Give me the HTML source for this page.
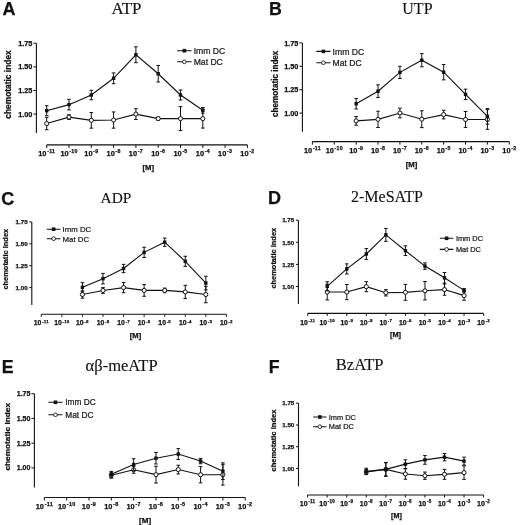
<!DOCTYPE html>
<html><head><meta charset="utf-8"><style>
html,body{margin:0;padding:0;background:#fff;width:520px;height:525px;overflow:hidden}
svg{display:block;will-change:transform;filter:blur(0.3px)}
text.b{stroke:#111;stroke-width:0.25px}
text.r{stroke:#222;stroke-width:0.22px}
text.t{stroke:#111;stroke-width:0.12px}
</style></head><body>
<svg width="520" height="525" viewBox="0 0 520 525" fill="#111">
<rect width="520" height="525" fill="#fff"/>
<text x="2.4" y="14.8" font-family='"Liberation Sans", sans-serif' class="b" font-weight="bold" font-size="18">A</text>
<text x="111.4" y="13.7" class="t" font-family='"Liberation Serif", serif' font-size="16.9">ATP</text>
<path d="M36.4 43.25V132.9" stroke="#111" stroke-width="1.1" fill="none"/>
<path d="M33.4 43.25H36.4" stroke="#111" stroke-width="1" fill="none"/>
<text x="32.4" y="45.88" text-anchor="end" font-family='"Liberation Sans", sans-serif' class="b" font-weight="bold" font-size="7.3">1.75</text>
<path d="M33.4 66.87H36.4" stroke="#111" stroke-width="1" fill="none"/>
<text x="32.4" y="69.49" text-anchor="end" font-family='"Liberation Sans", sans-serif' class="b" font-weight="bold" font-size="7.3">1.50</text>
<path d="M33.4 90.48H36.4" stroke="#111" stroke-width="1" fill="none"/>
<text x="32.4" y="93.11" text-anchor="end" font-family='"Liberation Sans", sans-serif' class="b" font-weight="bold" font-size="7.3">1.25</text>
<path d="M33.4 114.1H36.4" stroke="#111" stroke-width="1" fill="none"/>
<text x="32.4" y="116.73" text-anchor="end" font-family='"Liberation Sans", sans-serif' class="b" font-weight="bold" font-size="7.3">1.00</text>
<text transform="translate(11.22 84.5) rotate(-90) scale(1 1)" text-anchor="middle" font-family='"Liberation Sans", sans-serif' class="b" font-weight="bold" font-size="8.4">chemotatic index</text>
<path d="M46.7 144.9H247.4" stroke="#111" stroke-width="1.1" fill="none"/>
<path d="M46.7 144.9v3" stroke="#111" stroke-width="1" fill="none"/>
<text x="46.7" y="156" text-anchor="middle" font-family='"Liberation Sans", sans-serif' class="b" font-weight="bold" font-size="7.4">10<tspan font-size="5.2" letter-spacing="0.25" dx="0.7" dy="-2.81">-11</tspan></text>
<path d="M69 144.9v3" stroke="#111" stroke-width="1" fill="none"/>
<text x="69" y="156" text-anchor="middle" font-family='"Liberation Sans", sans-serif' class="b" font-weight="bold" font-size="7.4">10<tspan font-size="5.2" letter-spacing="0.25" dx="0.7" dy="-2.81">-10</tspan></text>
<path d="M91.3 144.9v3" stroke="#111" stroke-width="1" fill="none"/>
<text x="91.3" y="156" text-anchor="middle" font-family='"Liberation Sans", sans-serif' class="b" font-weight="bold" font-size="7.4">10<tspan font-size="5.2" letter-spacing="0.25" dx="0.7" dy="-2.81">-9</tspan></text>
<path d="M113.6 144.9v3" stroke="#111" stroke-width="1" fill="none"/>
<text x="113.6" y="156" text-anchor="middle" font-family='"Liberation Sans", sans-serif' class="b" font-weight="bold" font-size="7.4">10<tspan font-size="5.2" letter-spacing="0.25" dx="0.7" dy="-2.81">-8</tspan></text>
<path d="M135.9 144.9v3" stroke="#111" stroke-width="1" fill="none"/>
<text x="135.9" y="156" text-anchor="middle" font-family='"Liberation Sans", sans-serif' class="b" font-weight="bold" font-size="7.4">10<tspan font-size="5.2" letter-spacing="0.25" dx="0.7" dy="-2.81">-7</tspan></text>
<path d="M158.2 144.9v3" stroke="#111" stroke-width="1" fill="none"/>
<text x="158.2" y="156" text-anchor="middle" font-family='"Liberation Sans", sans-serif' class="b" font-weight="bold" font-size="7.4">10<tspan font-size="5.2" letter-spacing="0.25" dx="0.7" dy="-2.81">-6</tspan></text>
<path d="M180.5 144.9v3" stroke="#111" stroke-width="1" fill="none"/>
<text x="180.5" y="156" text-anchor="middle" font-family='"Liberation Sans", sans-serif' class="b" font-weight="bold" font-size="7.4">10<tspan font-size="5.2" letter-spacing="0.25" dx="0.7" dy="-2.81">-5</tspan></text>
<path d="M202.8 144.9v3" stroke="#111" stroke-width="1" fill="none"/>
<text x="202.8" y="156" text-anchor="middle" font-family='"Liberation Sans", sans-serif' class="b" font-weight="bold" font-size="7.4">10<tspan font-size="5.2" letter-spacing="0.25" dx="0.7" dy="-2.81">-4</tspan></text>
<path d="M225.1 144.9v3" stroke="#111" stroke-width="1" fill="none"/>
<text x="225.1" y="156" text-anchor="middle" font-family='"Liberation Sans", sans-serif' class="b" font-weight="bold" font-size="7.4">10<tspan font-size="5.2" letter-spacing="0.25" dx="0.7" dy="-2.81">-3</tspan></text>
<path d="M247.4 144.9v3" stroke="#111" stroke-width="1" fill="none"/>
<text x="247.4" y="156" text-anchor="middle" font-family='"Liberation Sans", sans-serif' class="b" font-weight="bold" font-size="7.4">10<tspan font-size="5.2" letter-spacing="0.25" dx="0.7" dy="-2.81">-2</tspan></text>
<text x="148.3" y="170.2" text-anchor="middle" font-family='"Liberation Sans", sans-serif' class="b" font-weight="bold" font-size="7.7">[M]</text>
<polyline points="46.7,123.55 69,117.12 91.3,120.33 113.6,120.05 135.9,114.1 158.2,118.63 180.5,118.63 202.8,118.63" stroke="#111" stroke-width="1.1" fill="none"/>
<path d="M46.7 117.41V129.69M44.9 117.41h3.6M44.9 129.69h3.6" stroke="#111" stroke-width="1" fill="none"/>
<path d="M69 114.76V119.48M67.2 114.76h3.6M67.2 119.48h3.6" stroke="#111" stroke-width="1" fill="none"/>
<path d="M91.3 112.49V128.18M89.5 112.49h3.6M89.5 128.18h3.6" stroke="#111" stroke-width="1" fill="none"/>
<path d="M113.6 111.93V128.18M111.8 111.93h3.6M111.8 128.18h3.6" stroke="#111" stroke-width="1" fill="none"/>
<path d="M135.9 108.72V119.48M134.1 108.72h3.6M134.1 119.48h3.6" stroke="#111" stroke-width="1" fill="none"/>
<path d="M158.2 117.12V120.15M156.4 117.12h3.6M156.4 120.15h3.6" stroke="#111" stroke-width="1" fill="none"/>
<path d="M180.5 106.64V130.63M178.7 106.64h3.6M178.7 130.63h3.6" stroke="#111" stroke-width="1" fill="none"/>
<path d="M202.8 109.19V128.08M201 109.19h3.6M201 128.08h3.6" stroke="#111" stroke-width="1" fill="none"/>
<circle cx="46.7" cy="123.55" r="2.05" fill="#fff" stroke="#111" stroke-width="1"/>
<circle cx="69" cy="117.12" r="2.05" fill="#fff" stroke="#111" stroke-width="1"/>
<circle cx="91.3" cy="120.33" r="2.05" fill="#fff" stroke="#111" stroke-width="1"/>
<circle cx="113.6" cy="120.05" r="2.05" fill="#fff" stroke="#111" stroke-width="1"/>
<circle cx="135.9" cy="114.1" r="2.05" fill="#fff" stroke="#111" stroke-width="1"/>
<circle cx="158.2" cy="118.63" r="2.05" fill="#fff" stroke="#111" stroke-width="1"/>
<circle cx="180.5" cy="118.63" r="2.05" fill="#fff" stroke="#111" stroke-width="1"/>
<circle cx="202.8" cy="118.63" r="2.05" fill="#fff" stroke="#111" stroke-width="1"/>
<polyline points="46.7,110.7 69,104.65 91.3,95.02 113.6,78.3 135.9,54.77 158.2,73.76 180.5,95.02 202.8,110.32" stroke="#111" stroke-width="1.1" fill="none"/>
<path d="M46.7 105.69V115.71M44.9 105.69h3.6M44.9 115.71h3.6" stroke="#111" stroke-width="1" fill="none"/>
<path d="M69 99.36V109.94M67.2 99.36h3.6M67.2 109.94h3.6" stroke="#111" stroke-width="1" fill="none"/>
<path d="M91.3 90.29V99.74M89.5 90.29h3.6M89.5 99.74h3.6" stroke="#111" stroke-width="1" fill="none"/>
<path d="M113.6 72.91V83.68M111.8 72.91h3.6M111.8 83.68h3.6" stroke="#111" stroke-width="1" fill="none"/>
<path d="M135.9 46.84V62.71M134.1 46.84h3.6M134.1 62.71h3.6" stroke="#111" stroke-width="1" fill="none"/>
<path d="M158.2 65.54V81.98M156.4 65.54h3.6M156.4 81.98h3.6" stroke="#111" stroke-width="1" fill="none"/>
<path d="M180.5 90.01V100.02M178.7 90.01h3.6M178.7 100.02h3.6" stroke="#111" stroke-width="1" fill="none"/>
<path d="M202.8 107.49V113.16M201 107.49h3.6M201 113.16h3.6" stroke="#111" stroke-width="1" fill="none"/>
<rect x="45" y="109" width="3.4" height="3.4" fill="#111"/>
<rect x="67.3" y="102.95" width="3.4" height="3.4" fill="#111"/>
<rect x="89.6" y="93.32" width="3.4" height="3.4" fill="#111"/>
<rect x="111.9" y="76.6" width="3.4" height="3.4" fill="#111"/>
<rect x="134.2" y="53.07" width="3.4" height="3.4" fill="#111"/>
<rect x="156.5" y="72.06" width="3.4" height="3.4" fill="#111"/>
<rect x="178.8" y="93.32" width="3.4" height="3.4" fill="#111"/>
<rect x="201.1" y="108.62" width="3.4" height="3.4" fill="#111"/>
<path d="M177.2 50.7H191.6M177.2 61.8H191.6" stroke="#111" stroke-width="1.1" fill="none"/>
<rect x="182.6" y="48.9" width="3.6" height="3.6" fill="#111"/>
<circle cx="184.4" cy="61.8" r="1.85" fill="#fff" stroke="#111" stroke-width="0.85"/>
<text x="193.7" y="53.8" class="r" font-family='"Liberation Sans", sans-serif' font-size="8.6">Imm DC</text>
<text x="193.7" y="64.9" class="r" font-family='"Liberation Sans", sans-serif' font-size="8.6">Mat DC</text>
<text x="269.1" y="15" font-family='"Liberation Sans", sans-serif' class="b" font-weight="bold" font-size="17.8">B</text>
<text x="402.3" y="13.7" class="t" font-family='"Liberation Serif", serif' font-size="16">UTP</text>
<path d="M302.4 42.9V131.8" stroke="#111" stroke-width="1.1" fill="none"/>
<path d="M299.4 42.9H302.4" stroke="#111" stroke-width="1" fill="none"/>
<text x="298.4" y="45.53" text-anchor="end" font-family='"Liberation Sans", sans-serif' class="b" font-weight="bold" font-size="7.3">1.75</text>
<path d="M299.4 66.3H302.4" stroke="#111" stroke-width="1" fill="none"/>
<text x="298.4" y="68.93" text-anchor="end" font-family='"Liberation Sans", sans-serif' class="b" font-weight="bold" font-size="7.3">1.50</text>
<path d="M299.4 89.7H302.4" stroke="#111" stroke-width="1" fill="none"/>
<text x="298.4" y="92.33" text-anchor="end" font-family='"Liberation Sans", sans-serif' class="b" font-weight="bold" font-size="7.3">1.25</text>
<path d="M299.4 113.1H302.4" stroke="#111" stroke-width="1" fill="none"/>
<text x="298.4" y="115.73" text-anchor="end" font-family='"Liberation Sans", sans-serif' class="b" font-weight="bold" font-size="7.3">1.00</text>
<text transform="translate(277.93 83.8) rotate(-90) scale(1 1)" text-anchor="middle" font-family='"Liberation Sans", sans-serif' class="b" font-weight="bold" font-size="8.15">chemotatic index</text>
<path d="M312.4 141.6H509.3" stroke="#111" stroke-width="1.1" fill="none"/>
<path d="M312.4 141.6v3" stroke="#111" stroke-width="1" fill="none"/>
<text x="312.4" y="153.3" text-anchor="middle" font-family='"Liberation Sans", sans-serif' class="b" font-weight="bold" font-size="7.4">10<tspan font-size="5.2" letter-spacing="0.25" dx="0.7" dy="-2.81">-11</tspan></text>
<path d="M334.28 141.6v3" stroke="#111" stroke-width="1" fill="none"/>
<text x="334.28" y="153.3" text-anchor="middle" font-family='"Liberation Sans", sans-serif' class="b" font-weight="bold" font-size="7.4">10<tspan font-size="5.2" letter-spacing="0.25" dx="0.7" dy="-2.81">-10</tspan></text>
<path d="M356.16 141.6v3" stroke="#111" stroke-width="1" fill="none"/>
<text x="356.16" y="153.3" text-anchor="middle" font-family='"Liberation Sans", sans-serif' class="b" font-weight="bold" font-size="7.4">10<tspan font-size="5.2" letter-spacing="0.25" dx="0.7" dy="-2.81">-9</tspan></text>
<path d="M378.03 141.6v3" stroke="#111" stroke-width="1" fill="none"/>
<text x="378.03" y="153.3" text-anchor="middle" font-family='"Liberation Sans", sans-serif' class="b" font-weight="bold" font-size="7.4">10<tspan font-size="5.2" letter-spacing="0.25" dx="0.7" dy="-2.81">-8</tspan></text>
<path d="M399.91 141.6v3" stroke="#111" stroke-width="1" fill="none"/>
<text x="399.91" y="153.3" text-anchor="middle" font-family='"Liberation Sans", sans-serif' class="b" font-weight="bold" font-size="7.4">10<tspan font-size="5.2" letter-spacing="0.25" dx="0.7" dy="-2.81">-7</tspan></text>
<path d="M421.79 141.6v3" stroke="#111" stroke-width="1" fill="none"/>
<text x="421.79" y="153.3" text-anchor="middle" font-family='"Liberation Sans", sans-serif' class="b" font-weight="bold" font-size="7.4">10<tspan font-size="5.2" letter-spacing="0.25" dx="0.7" dy="-2.81">-6</tspan></text>
<path d="M443.67 141.6v3" stroke="#111" stroke-width="1" fill="none"/>
<text x="443.67" y="153.3" text-anchor="middle" font-family='"Liberation Sans", sans-serif' class="b" font-weight="bold" font-size="7.4">10<tspan font-size="5.2" letter-spacing="0.25" dx="0.7" dy="-2.81">-5</tspan></text>
<path d="M465.54 141.6v3" stroke="#111" stroke-width="1" fill="none"/>
<text x="465.54" y="153.3" text-anchor="middle" font-family='"Liberation Sans", sans-serif' class="b" font-weight="bold" font-size="7.4">10<tspan font-size="5.2" letter-spacing="0.25" dx="0.7" dy="-2.81">-4</tspan></text>
<path d="M487.42 141.6v3" stroke="#111" stroke-width="1" fill="none"/>
<text x="487.42" y="153.3" text-anchor="middle" font-family='"Liberation Sans", sans-serif' class="b" font-weight="bold" font-size="7.4">10<tspan font-size="5.2" letter-spacing="0.25" dx="0.7" dy="-2.81">-3</tspan></text>
<path d="M509.3 141.6v3" stroke="#111" stroke-width="1" fill="none"/>
<text x="509.3" y="153.3" text-anchor="middle" font-family='"Liberation Sans", sans-serif' class="b" font-weight="bold" font-size="7.4">10<tspan font-size="5.2" letter-spacing="0.25" dx="0.7" dy="-2.81">-2</tspan></text>
<text x="411.5" y="166.7" text-anchor="middle" font-family='"Liberation Sans", sans-serif' class="b" font-weight="bold" font-size="7.7">[M]</text>
<polyline points="356.16,120.87 378.03,119.37 399.91,113.01 421.79,119.18 443.67,114.6 465.54,119.46 487.42,119.46" stroke="#111" stroke-width="1.1" fill="none"/>
<path d="M356.16 116.56V125.17M354.36 116.56h3.6M354.36 125.17h3.6" stroke="#111" stroke-width="1" fill="none"/>
<path d="M378.03 111.23V127.51M376.23 111.23h3.6M376.23 127.51h3.6" stroke="#111" stroke-width="1" fill="none"/>
<path d="M399.91 108.14V117.87M398.11 108.14h3.6M398.11 117.87h3.6" stroke="#111" stroke-width="1" fill="none"/>
<path d="M421.79 110.76V127.61M419.99 110.76h3.6M419.99 127.61h3.6" stroke="#111" stroke-width="1" fill="none"/>
<path d="M443.67 110.29V118.9M441.87 110.29h3.6M441.87 118.9h3.6" stroke="#111" stroke-width="1" fill="none"/>
<path d="M465.54 111.51V127.42M463.74 111.51h3.6M463.74 127.42h3.6" stroke="#111" stroke-width="1" fill="none"/>
<path d="M487.42 109.64V129.29M485.62 109.64h3.6M485.62 129.29h3.6" stroke="#111" stroke-width="1" fill="none"/>
<circle cx="356.16" cy="120.87" r="2.05" fill="#fff" stroke="#111" stroke-width="1"/>
<circle cx="378.03" cy="119.37" r="2.05" fill="#fff" stroke="#111" stroke-width="1"/>
<circle cx="399.91" cy="113.01" r="2.05" fill="#fff" stroke="#111" stroke-width="1"/>
<circle cx="421.79" cy="119.18" r="2.05" fill="#fff" stroke="#111" stroke-width="1"/>
<circle cx="443.67" cy="114.6" r="2.05" fill="#fff" stroke="#111" stroke-width="1"/>
<circle cx="465.54" cy="119.46" r="2.05" fill="#fff" stroke="#111" stroke-width="1"/>
<circle cx="487.42" cy="119.46" r="2.05" fill="#fff" stroke="#111" stroke-width="1"/>
<polyline points="356.16,103.74 378.03,91.2 399.91,72.38 421.79,60.22 443.67,72.2 465.54,94.38 487.42,116.38" stroke="#111" stroke-width="1.1" fill="none"/>
<path d="M356.16 98.5V108.98M354.36 98.5h3.6M354.36 108.98h3.6" stroke="#111" stroke-width="1" fill="none"/>
<path d="M378.03 84.83V97.56M376.23 84.83h3.6M376.23 97.56h3.6" stroke="#111" stroke-width="1" fill="none"/>
<path d="M399.91 66.3V78.47M398.11 66.3h3.6M398.11 78.47h3.6" stroke="#111" stroke-width="1" fill="none"/>
<path d="M421.79 53.66V66.77M419.99 53.66h3.6M419.99 66.77h3.6" stroke="#111" stroke-width="1" fill="none"/>
<path d="M443.67 64.52V79.87M441.87 64.52h3.6M441.87 79.87h3.6" stroke="#111" stroke-width="1" fill="none"/>
<path d="M465.54 89.14V99.62M463.74 89.14h3.6M463.74 99.62h3.6" stroke="#111" stroke-width="1" fill="none"/>
<path d="M487.42 108.61V124.14M485.62 108.61h3.6M485.62 124.14h3.6" stroke="#111" stroke-width="1" fill="none"/>
<rect x="354.46" y="102.04" width="3.4" height="3.4" fill="#111"/>
<rect x="376.33" y="89.5" width="3.4" height="3.4" fill="#111"/>
<rect x="398.21" y="70.68" width="3.4" height="3.4" fill="#111"/>
<rect x="420.09" y="58.52" width="3.4" height="3.4" fill="#111"/>
<rect x="441.97" y="70.5" width="3.4" height="3.4" fill="#111"/>
<rect x="463.84" y="92.68" width="3.4" height="3.4" fill="#111"/>
<rect x="485.72" y="114.68" width="3.4" height="3.4" fill="#111"/>
<path d="M316.3 51.4H330.5M316.3 62.7H330.5" stroke="#111" stroke-width="1.1" fill="none"/>
<rect x="321.6" y="49.6" width="3.6" height="3.6" fill="#111"/>
<circle cx="323.4" cy="62.7" r="1.85" fill="#fff" stroke="#111" stroke-width="0.85"/>
<text x="332.6" y="54.5" class="r" font-family='"Liberation Sans", sans-serif' font-size="8.6">Imm DC</text>
<text x="332.6" y="65.8" class="r" font-family='"Liberation Sans", sans-serif' font-size="8.6">Mat DC</text>
<text x="1.2" y="204.6" font-family='"Liberation Sans", sans-serif' class="b" font-weight="bold" font-size="18">C</text>
<text x="100.6" y="202.9" class="t" font-family='"Liberation Serif", serif' font-size="15.4">ADP</text>
<path d="M31.8 221.9V305" stroke="#111" stroke-width="1.1" fill="none"/>
<path d="M29.3 221.9H31.8" stroke="#111" stroke-width="1" fill="none"/>
<text x="27.6" y="224.13" text-anchor="end" font-family='"Liberation Sans", sans-serif' class="b" font-weight="bold" font-size="6.2">1.75</text>
<path d="M29.3 243.8H31.8" stroke="#111" stroke-width="1" fill="none"/>
<text x="27.6" y="246.03" text-anchor="end" font-family='"Liberation Sans", sans-serif' class="b" font-weight="bold" font-size="6.2">1.50</text>
<path d="M29.3 265.7H31.8" stroke="#111" stroke-width="1" fill="none"/>
<text x="27.6" y="267.93" text-anchor="end" font-family='"Liberation Sans", sans-serif' class="b" font-weight="bold" font-size="6.2">1.25</text>
<path d="M29.3 287.6H31.8" stroke="#111" stroke-width="1" fill="none"/>
<text x="27.6" y="289.83" text-anchor="end" font-family='"Liberation Sans", sans-serif' class="b" font-weight="bold" font-size="6.2">1.00</text>
<text transform="translate(8.18 259.2) rotate(-90) scale(1 1)" text-anchor="middle" font-family='"Liberation Sans", sans-serif' class="b" font-weight="bold" font-size="7.45">chemotatic index</text>
<path d="M41.3 314.3H226.4" stroke="#111" stroke-width="1.1" fill="none"/>
<path d="M41.3 314.3v2.5" stroke="#111" stroke-width="1" fill="none"/>
<text x="41.3" y="325.1" text-anchor="middle" font-family='"Liberation Sans", sans-serif' class="b" font-weight="bold" font-size="6.8">10<tspan font-size="4.4" letter-spacing="0.25" dx="0.7" dy="-2.58">-11</tspan></text>
<path d="M61.87 314.3v2.5" stroke="#111" stroke-width="1" fill="none"/>
<text x="61.87" y="325.1" text-anchor="middle" font-family='"Liberation Sans", sans-serif' class="b" font-weight="bold" font-size="6.8">10<tspan font-size="4.4" letter-spacing="0.25" dx="0.7" dy="-2.58">-10</tspan></text>
<path d="M82.43 314.3v2.5" stroke="#111" stroke-width="1" fill="none"/>
<text x="82.43" y="325.1" text-anchor="middle" font-family='"Liberation Sans", sans-serif' class="b" font-weight="bold" font-size="6.8">10<tspan font-size="4.4" letter-spacing="0.25" dx="0.7" dy="-2.58">-9</tspan></text>
<path d="M103 314.3v2.5" stroke="#111" stroke-width="1" fill="none"/>
<text x="103" y="325.1" text-anchor="middle" font-family='"Liberation Sans", sans-serif' class="b" font-weight="bold" font-size="6.8">10<tspan font-size="4.4" letter-spacing="0.25" dx="0.7" dy="-2.58">-8</tspan></text>
<path d="M123.57 314.3v2.5" stroke="#111" stroke-width="1" fill="none"/>
<text x="123.57" y="325.1" text-anchor="middle" font-family='"Liberation Sans", sans-serif' class="b" font-weight="bold" font-size="6.8">10<tspan font-size="4.4" letter-spacing="0.25" dx="0.7" dy="-2.58">-7</tspan></text>
<path d="M144.13 314.3v2.5" stroke="#111" stroke-width="1" fill="none"/>
<text x="144.13" y="325.1" text-anchor="middle" font-family='"Liberation Sans", sans-serif' class="b" font-weight="bold" font-size="6.8">10<tspan font-size="4.4" letter-spacing="0.25" dx="0.7" dy="-2.58">-6</tspan></text>
<path d="M164.7 314.3v2.5" stroke="#111" stroke-width="1" fill="none"/>
<text x="164.7" y="325.1" text-anchor="middle" font-family='"Liberation Sans", sans-serif' class="b" font-weight="bold" font-size="6.8">10<tspan font-size="4.4" letter-spacing="0.25" dx="0.7" dy="-2.58">-5</tspan></text>
<path d="M185.27 314.3v2.5" stroke="#111" stroke-width="1" fill="none"/>
<text x="185.27" y="325.1" text-anchor="middle" font-family='"Liberation Sans", sans-serif' class="b" font-weight="bold" font-size="6.8">10<tspan font-size="4.4" letter-spacing="0.25" dx="0.7" dy="-2.58">-4</tspan></text>
<path d="M205.83 314.3v2.5" stroke="#111" stroke-width="1" fill="none"/>
<text x="205.83" y="325.1" text-anchor="middle" font-family='"Liberation Sans", sans-serif' class="b" font-weight="bold" font-size="6.8">10<tspan font-size="4.4" letter-spacing="0.25" dx="0.7" dy="-2.58">-3</tspan></text>
<path d="M226.4 314.3v2.5" stroke="#111" stroke-width="1" fill="none"/>
<text x="226.4" y="325.1" text-anchor="middle" font-family='"Liberation Sans", sans-serif' class="b" font-weight="bold" font-size="6.8">10<tspan font-size="4.4" letter-spacing="0.25" dx="0.7" dy="-2.58">-2</tspan></text>
<text x="135.5" y="338.4" text-anchor="middle" font-family='"Liberation Sans", sans-serif' class="b" font-weight="bold" font-size="7.6">[M]</text>
<polyline points="82.43,294.52 103,290.49 123.57,287.6 144.13,290.4 164.7,290.4 185.27,291.89 205.83,294.52" stroke="#111" stroke-width="1.1" fill="none"/>
<path d="M82.43 290.84V298.2M80.63 290.84h3.6M80.63 298.2h3.6" stroke="#111" stroke-width="1" fill="none"/>
<path d="M103 287.6V293.38M101.2 287.6h3.6M101.2 293.38h3.6" stroke="#111" stroke-width="1" fill="none"/>
<path d="M123.57 282.52V292.68M121.77 282.52h3.6M121.77 292.68h3.6" stroke="#111" stroke-width="1" fill="none"/>
<path d="M144.13 284.53V296.27M142.33 284.53h3.6M142.33 296.27h3.6" stroke="#111" stroke-width="1" fill="none"/>
<path d="M164.7 288.13V292.68M162.9 288.13h3.6M162.9 292.68h3.6" stroke="#111" stroke-width="1" fill="none"/>
<path d="M185.27 285.32V298.46M183.47 285.32h3.6M183.47 298.46h3.6" stroke="#111" stroke-width="1" fill="none"/>
<path d="M205.83 286.29V302.75M204.03 286.29h3.6M204.03 302.75h3.6" stroke="#111" stroke-width="1" fill="none"/>
<circle cx="82.43" cy="294.52" r="2.05" fill="#fff" stroke="#111" stroke-width="1"/>
<circle cx="103" cy="290.49" r="2.05" fill="#fff" stroke="#111" stroke-width="1"/>
<circle cx="123.57" cy="287.6" r="2.05" fill="#fff" stroke="#111" stroke-width="1"/>
<circle cx="144.13" cy="290.4" r="2.05" fill="#fff" stroke="#111" stroke-width="1"/>
<circle cx="164.7" cy="290.4" r="2.05" fill="#fff" stroke="#111" stroke-width="1"/>
<circle cx="185.27" cy="291.89" r="2.05" fill="#fff" stroke="#111" stroke-width="1"/>
<circle cx="205.83" cy="294.52" r="2.05" fill="#fff" stroke="#111" stroke-width="1"/>
<polyline points="82.43,287.34 103,278.66 123.57,268.5 144.13,252.38 164.7,242.22 185.27,261.32 205.83,283.04" stroke="#111" stroke-width="1.1" fill="none"/>
<path d="M82.43 282.69V291.98M80.63 282.69h3.6M80.63 291.98h3.6" stroke="#111" stroke-width="1" fill="none"/>
<path d="M103 273.41V283.92M101.2 273.41h3.6M101.2 283.92h3.6" stroke="#111" stroke-width="1" fill="none"/>
<path d="M123.57 264.39V272.62M121.77 264.39h3.6M121.77 272.62h3.6" stroke="#111" stroke-width="1" fill="none"/>
<path d="M144.13 247.3V257.47M142.33 247.3h3.6M142.33 257.47h3.6" stroke="#111" stroke-width="1" fill="none"/>
<path d="M164.7 238.11V246.34M162.9 238.11h3.6M162.9 246.34h3.6" stroke="#111" stroke-width="1" fill="none"/>
<path d="M185.27 256.24V266.4M183.47 256.24h3.6M183.47 266.4h3.6" stroke="#111" stroke-width="1" fill="none"/>
<path d="M205.83 276.21V289.88M204.03 276.21h3.6M204.03 289.88h3.6" stroke="#111" stroke-width="1" fill="none"/>
<rect x="80.73" y="285.64" width="3.4" height="3.4" fill="#111"/>
<rect x="101.3" y="276.96" width="3.4" height="3.4" fill="#111"/>
<rect x="121.87" y="266.8" width="3.4" height="3.4" fill="#111"/>
<rect x="142.43" y="250.68" width="3.4" height="3.4" fill="#111"/>
<rect x="163" y="240.52" width="3.4" height="3.4" fill="#111"/>
<rect x="183.57" y="259.62" width="3.4" height="3.4" fill="#111"/>
<rect x="204.13" y="281.34" width="3.4" height="3.4" fill="#111"/>
<path d="M46.8 229.2H60.5M46.8 238.7H60.5" stroke="#111" stroke-width="1.1" fill="none"/>
<rect x="51.85" y="227.4" width="3.6" height="3.6" fill="#111"/>
<circle cx="53.65" cy="238.7" r="1.85" fill="#fff" stroke="#111" stroke-width="0.85"/>
<text x="62.6" y="232.01" class="r" font-family='"Liberation Sans", sans-serif' font-size="7.8">Imm DC</text>
<text x="62.6" y="241.51" class="r" font-family='"Liberation Sans", sans-serif' font-size="7.8">Mat DC</text>
<text x="268.1" y="204.2" font-family='"Liberation Sans", sans-serif' class="b" font-weight="bold" font-size="18">D</text>
<text x="351" y="202.4" class="t" font-family='"Liberation Serif", serif' font-size="16">2-MeSATP</text>
<path d="M298.4 220.2V303.9" stroke="#111" stroke-width="1.1" fill="none"/>
<path d="M295.9 220.2H298.4" stroke="#111" stroke-width="1" fill="none"/>
<text x="294.2" y="222.43" text-anchor="end" font-family='"Liberation Sans", sans-serif' class="b" font-weight="bold" font-size="6.2">1.75</text>
<path d="M295.9 242.3H298.4" stroke="#111" stroke-width="1" fill="none"/>
<text x="294.2" y="244.53" text-anchor="end" font-family='"Liberation Sans", sans-serif' class="b" font-weight="bold" font-size="6.2">1.50</text>
<path d="M295.9 264.4H298.4" stroke="#111" stroke-width="1" fill="none"/>
<text x="294.2" y="266.63" text-anchor="end" font-family='"Liberation Sans", sans-serif' class="b" font-weight="bold" font-size="6.2">1.25</text>
<path d="M295.9 286.5H298.4" stroke="#111" stroke-width="1" fill="none"/>
<text x="294.2" y="288.73" text-anchor="end" font-family='"Liberation Sans", sans-serif' class="b" font-weight="bold" font-size="6.2">1.00</text>
<text transform="translate(276.28 258.2) rotate(-90) scale(1 1)" text-anchor="middle" font-family='"Liberation Sans", sans-serif' class="b" font-weight="bold" font-size="7.45">chemotatic index</text>
<path d="M307.7 313.4H483.6" stroke="#111" stroke-width="1.1" fill="none"/>
<path d="M307.7 313.4v2.5" stroke="#111" stroke-width="1" fill="none"/>
<text x="307.7" y="324.6" text-anchor="middle" font-family='"Liberation Sans", sans-serif' class="b" font-weight="bold" font-size="6.8">10<tspan font-size="4.4" letter-spacing="0.25" dx="0.7" dy="-2.58">-11</tspan></text>
<path d="M327.24 313.4v2.5" stroke="#111" stroke-width="1" fill="none"/>
<text x="327.24" y="324.6" text-anchor="middle" font-family='"Liberation Sans", sans-serif' class="b" font-weight="bold" font-size="6.8">10<tspan font-size="4.4" letter-spacing="0.25" dx="0.7" dy="-2.58">-10</tspan></text>
<path d="M346.79 313.4v2.5" stroke="#111" stroke-width="1" fill="none"/>
<text x="346.79" y="324.6" text-anchor="middle" font-family='"Liberation Sans", sans-serif' class="b" font-weight="bold" font-size="6.8">10<tspan font-size="4.4" letter-spacing="0.25" dx="0.7" dy="-2.58">-9</tspan></text>
<path d="M366.33 313.4v2.5" stroke="#111" stroke-width="1" fill="none"/>
<text x="366.33" y="324.6" text-anchor="middle" font-family='"Liberation Sans", sans-serif' class="b" font-weight="bold" font-size="6.8">10<tspan font-size="4.4" letter-spacing="0.25" dx="0.7" dy="-2.58">-8</tspan></text>
<path d="M385.88 313.4v2.5" stroke="#111" stroke-width="1" fill="none"/>
<text x="385.88" y="324.6" text-anchor="middle" font-family='"Liberation Sans", sans-serif' class="b" font-weight="bold" font-size="6.8">10<tspan font-size="4.4" letter-spacing="0.25" dx="0.7" dy="-2.58">-7</tspan></text>
<path d="M405.42 313.4v2.5" stroke="#111" stroke-width="1" fill="none"/>
<text x="405.42" y="324.6" text-anchor="middle" font-family='"Liberation Sans", sans-serif' class="b" font-weight="bold" font-size="6.8">10<tspan font-size="4.4" letter-spacing="0.25" dx="0.7" dy="-2.58">-6</tspan></text>
<path d="M424.97 313.4v2.5" stroke="#111" stroke-width="1" fill="none"/>
<text x="424.97" y="324.6" text-anchor="middle" font-family='"Liberation Sans", sans-serif' class="b" font-weight="bold" font-size="6.8">10<tspan font-size="4.4" letter-spacing="0.25" dx="0.7" dy="-2.58">-5</tspan></text>
<path d="M444.51 313.4v2.5" stroke="#111" stroke-width="1" fill="none"/>
<text x="444.51" y="324.6" text-anchor="middle" font-family='"Liberation Sans", sans-serif' class="b" font-weight="bold" font-size="6.8">10<tspan font-size="4.4" letter-spacing="0.25" dx="0.7" dy="-2.58">-4</tspan></text>
<path d="M464.06 313.4v2.5" stroke="#111" stroke-width="1" fill="none"/>
<text x="464.06" y="324.6" text-anchor="middle" font-family='"Liberation Sans", sans-serif' class="b" font-weight="bold" font-size="6.8">10<tspan font-size="4.4" letter-spacing="0.25" dx="0.7" dy="-2.58">-3</tspan></text>
<path d="M483.6 313.4v2.5" stroke="#111" stroke-width="1" fill="none"/>
<text x="483.6" y="324.6" text-anchor="middle" font-family='"Liberation Sans", sans-serif' class="b" font-weight="bold" font-size="6.8">10<tspan font-size="4.4" letter-spacing="0.25" dx="0.7" dy="-2.58">-2</tspan></text>
<text x="395.5" y="337.3" text-anchor="middle" font-family='"Liberation Sans", sans-serif' class="b" font-weight="bold" font-size="7.4">[M]</text>
<polyline points="327.24,292.07 346.79,292.07 366.33,286.68 385.88,292.78 405.42,292.33 424.97,290.74 444.51,289.59 464.06,295.61" stroke="#111" stroke-width="1.1" fill="none"/>
<path d="M327.24 284.2V299.94M325.44 284.2h3.6M325.44 299.94h3.6" stroke="#111" stroke-width="1" fill="none"/>
<path d="M346.79 284.47V299.67M344.99 284.47h3.6M344.99 299.67h3.6" stroke="#111" stroke-width="1" fill="none"/>
<path d="M366.33 281.64V291.72M364.53 281.64h3.6M364.53 291.72h3.6" stroke="#111" stroke-width="1" fill="none"/>
<path d="M385.88 289.59V295.96M384.08 289.59h3.6M384.08 295.96h3.6" stroke="#111" stroke-width="1" fill="none"/>
<path d="M405.42 284.38V300.29M403.62 284.38h3.6M403.62 300.29h3.6" stroke="#111" stroke-width="1" fill="none"/>
<path d="M424.97 281.55V299.94M423.17 281.55h3.6M423.17 299.94h3.6" stroke="#111" stroke-width="1" fill="none"/>
<path d="M444.51 283.94V295.25M442.71 283.94h3.6M442.71 295.25h3.6" stroke="#111" stroke-width="1" fill="none"/>
<path d="M464.06 290.92V300.29M462.26 290.92h3.6M462.26 300.29h3.6" stroke="#111" stroke-width="1" fill="none"/>
<circle cx="327.24" cy="292.07" r="2.05" fill="#fff" stroke="#111" stroke-width="1"/>
<circle cx="346.79" cy="292.07" r="2.05" fill="#fff" stroke="#111" stroke-width="1"/>
<circle cx="366.33" cy="286.68" r="2.05" fill="#fff" stroke="#111" stroke-width="1"/>
<circle cx="385.88" cy="292.78" r="2.05" fill="#fff" stroke="#111" stroke-width="1"/>
<circle cx="405.42" cy="292.33" r="2.05" fill="#fff" stroke="#111" stroke-width="1"/>
<circle cx="424.97" cy="290.74" r="2.05" fill="#fff" stroke="#111" stroke-width="1"/>
<circle cx="444.51" cy="289.59" r="2.05" fill="#fff" stroke="#111" stroke-width="1"/>
<circle cx="464.06" cy="295.61" r="2.05" fill="#fff" stroke="#111" stroke-width="1"/>
<polyline points="327.24,286.32 346.79,268.91 366.33,253.97 385.88,234.87 405.42,250.7 424.97,266.08 444.51,277.84 464.06,290.39" stroke="#111" stroke-width="1.1" fill="none"/>
<path d="M327.24 281.73V290.92M325.44 281.73h3.6M325.44 290.92h3.6" stroke="#111" stroke-width="1" fill="none"/>
<path d="M346.79 263.87V273.95M344.99 263.87h3.6M344.99 273.95h3.6" stroke="#111" stroke-width="1" fill="none"/>
<path d="M366.33 248.58V259.36M364.53 248.58h3.6M364.53 259.36h3.6" stroke="#111" stroke-width="1" fill="none"/>
<path d="M385.88 228.42V241.33M384.08 228.42h3.6M384.08 241.33h3.6" stroke="#111" stroke-width="1" fill="none"/>
<path d="M405.42 245.84V255.56M403.62 245.84h3.6M403.62 255.56h3.6" stroke="#111" stroke-width="1" fill="none"/>
<path d="M424.97 262.9V269.26M423.17 262.9h3.6M423.17 269.26h3.6" stroke="#111" stroke-width="1" fill="none"/>
<path d="M444.51 272.53V283.14M442.71 272.53h3.6M442.71 283.14h3.6" stroke="#111" stroke-width="1" fill="none"/>
<path d="M464.06 288.62V292.16M462.26 288.62h3.6M462.26 292.16h3.6" stroke="#111" stroke-width="1" fill="none"/>
<rect x="325.54" y="284.62" width="3.4" height="3.4" fill="#111"/>
<rect x="345.09" y="267.21" width="3.4" height="3.4" fill="#111"/>
<rect x="364.63" y="252.27" width="3.4" height="3.4" fill="#111"/>
<rect x="384.18" y="233.17" width="3.4" height="3.4" fill="#111"/>
<rect x="403.72" y="249" width="3.4" height="3.4" fill="#111"/>
<rect x="423.27" y="264.38" width="3.4" height="3.4" fill="#111"/>
<rect x="442.81" y="276.14" width="3.4" height="3.4" fill="#111"/>
<rect x="462.36" y="288.69" width="3.4" height="3.4" fill="#111"/>
<path d="M439.8 238.3H453.4M439.8 249.4H453.4" stroke="#111" stroke-width="1.1" fill="none"/>
<rect x="444.8" y="236.5" width="3.6" height="3.6" fill="#111"/>
<circle cx="446.6" cy="249.4" r="1.85" fill="#fff" stroke="#111" stroke-width="0.85"/>
<text x="455.9" y="240.96" class="r" font-family='"Liberation Sans", sans-serif' font-size="7.4">Imm DC</text>
<text x="455.9" y="252.06" class="r" font-family='"Liberation Sans", sans-serif' font-size="7.4">Mat DC</text>
<text x="1.7" y="373" font-family='"Liberation Sans", sans-serif' class="b" font-weight="bold" font-size="17.8">E</text>
<text x="85.6" y="370.5" class="t" font-family='"Liberation Serif", serif' font-size="16.5">αβ-meATP</text>
<path d="M34.4 393.7V487.5" stroke="#111" stroke-width="1.1" fill="none"/>
<path d="M31.4 393.7H34.4" stroke="#111" stroke-width="1" fill="none"/>
<text x="30.4" y="396.22" text-anchor="end" font-family='"Liberation Sans", sans-serif' class="b" font-weight="bold" font-size="7">1.75</text>
<path d="M31.4 418.43H34.4" stroke="#111" stroke-width="1" fill="none"/>
<text x="30.4" y="420.95" text-anchor="end" font-family='"Liberation Sans", sans-serif' class="b" font-weight="bold" font-size="7">1.50</text>
<path d="M31.4 443.17H34.4" stroke="#111" stroke-width="1" fill="none"/>
<text x="30.4" y="445.69" text-anchor="end" font-family='"Liberation Sans", sans-serif' class="b" font-weight="bold" font-size="7">1.25</text>
<path d="M31.4 467.9H34.4" stroke="#111" stroke-width="1" fill="none"/>
<text x="30.4" y="470.42" text-anchor="end" font-family='"Liberation Sans", sans-serif' class="b" font-weight="bold" font-size="7">1.00</text>
<text transform="translate(9.56 436.8) rotate(-90) scale(1.12 1)" text-anchor="middle" font-family='"Liberation Sans", sans-serif' class="b" font-weight="bold" font-size="7.4">chemotatic index</text>
<path d="M44.4 497.5H245.2" stroke="#111" stroke-width="1.1" fill="none"/>
<path d="M44.4 497.5v3" stroke="#111" stroke-width="1" fill="none"/>
<text x="44.4" y="509.2" text-anchor="middle" font-family='"Liberation Sans", sans-serif' class="b" font-weight="bold" font-size="7.4">10<tspan font-size="5.5" letter-spacing="0.25" dx="0.7" dy="-2.81">-11</tspan></text>
<path d="M66.71 497.5v3" stroke="#111" stroke-width="1" fill="none"/>
<text x="66.71" y="509.2" text-anchor="middle" font-family='"Liberation Sans", sans-serif' class="b" font-weight="bold" font-size="7.4">10<tspan font-size="5.5" letter-spacing="0.25" dx="0.7" dy="-2.81">-10</tspan></text>
<path d="M89.02 497.5v3" stroke="#111" stroke-width="1" fill="none"/>
<text x="89.02" y="509.2" text-anchor="middle" font-family='"Liberation Sans", sans-serif' class="b" font-weight="bold" font-size="7.4">10<tspan font-size="5.5" letter-spacing="0.25" dx="0.7" dy="-2.81">-9</tspan></text>
<path d="M111.33 497.5v3" stroke="#111" stroke-width="1" fill="none"/>
<text x="111.33" y="509.2" text-anchor="middle" font-family='"Liberation Sans", sans-serif' class="b" font-weight="bold" font-size="7.4">10<tspan font-size="5.5" letter-spacing="0.25" dx="0.7" dy="-2.81">-8</tspan></text>
<path d="M133.64 497.5v3" stroke="#111" stroke-width="1" fill="none"/>
<text x="133.64" y="509.2" text-anchor="middle" font-family='"Liberation Sans", sans-serif' class="b" font-weight="bold" font-size="7.4">10<tspan font-size="5.5" letter-spacing="0.25" dx="0.7" dy="-2.81">-7</tspan></text>
<path d="M155.96 497.5v3" stroke="#111" stroke-width="1" fill="none"/>
<text x="155.96" y="509.2" text-anchor="middle" font-family='"Liberation Sans", sans-serif' class="b" font-weight="bold" font-size="7.4">10<tspan font-size="5.5" letter-spacing="0.25" dx="0.7" dy="-2.81">-6</tspan></text>
<path d="M178.27 497.5v3" stroke="#111" stroke-width="1" fill="none"/>
<text x="178.27" y="509.2" text-anchor="middle" font-family='"Liberation Sans", sans-serif' class="b" font-weight="bold" font-size="7.4">10<tspan font-size="5.5" letter-spacing="0.25" dx="0.7" dy="-2.81">-5</tspan></text>
<path d="M200.58 497.5v3" stroke="#111" stroke-width="1" fill="none"/>
<text x="200.58" y="509.2" text-anchor="middle" font-family='"Liberation Sans", sans-serif' class="b" font-weight="bold" font-size="7.4">10<tspan font-size="5.5" letter-spacing="0.25" dx="0.7" dy="-2.81">-4</tspan></text>
<path d="M222.89 497.5v3" stroke="#111" stroke-width="1" fill="none"/>
<text x="222.89" y="509.2" text-anchor="middle" font-family='"Liberation Sans", sans-serif' class="b" font-weight="bold" font-size="7.4">10<tspan font-size="5.5" letter-spacing="0.25" dx="0.7" dy="-2.81">-3</tspan></text>
<path d="M245.2 497.5v3" stroke="#111" stroke-width="1" fill="none"/>
<text x="245.2" y="509.2" text-anchor="middle" font-family='"Liberation Sans", sans-serif' class="b" font-weight="bold" font-size="7.4">10<tspan font-size="5.5" letter-spacing="0.25" dx="0.7" dy="-2.81">-2</tspan></text>
<text x="145.1" y="523.3" text-anchor="middle" font-family='"Liberation Sans", sans-serif' class="b" font-weight="bold" font-size="8">[M]</text>
<polyline points="111.33,475.22 133.64,469.78 155.96,474.63 178.27,469.58 200.58,474.73 222.89,474.73" stroke="#111" stroke-width="1.1" fill="none"/>
<path d="M111.33 472.25V478.19M109.53 472.25h3.6M109.53 478.19h3.6" stroke="#111" stroke-width="1" fill="none"/>
<path d="M133.64 466.32V473.24M131.84 466.32h3.6M131.84 473.24h3.6" stroke="#111" stroke-width="1" fill="none"/>
<path d="M155.96 466.22V483.04M154.16 466.22h3.6M154.16 483.04h3.6" stroke="#111" stroke-width="1" fill="none"/>
<path d="M178.27 465.23V473.93M176.47 465.23h3.6M176.47 473.93h3.6" stroke="#111" stroke-width="1" fill="none"/>
<path d="M200.58 466.61V482.84M198.78 466.61h3.6M198.78 482.84h3.6" stroke="#111" stroke-width="1" fill="none"/>
<path d="M222.89 464.34V485.11M221.09 464.34h3.6M221.09 485.11h3.6" stroke="#111" stroke-width="1" fill="none"/>
<circle cx="111.33" cy="475.22" r="2.05" fill="#fff" stroke="#111" stroke-width="1"/>
<circle cx="133.64" cy="469.78" r="2.05" fill="#fff" stroke="#111" stroke-width="1"/>
<circle cx="155.96" cy="474.63" r="2.05" fill="#fff" stroke="#111" stroke-width="1"/>
<circle cx="178.27" cy="469.58" r="2.05" fill="#fff" stroke="#111" stroke-width="1"/>
<circle cx="200.58" cy="474.73" r="2.05" fill="#fff" stroke="#111" stroke-width="1"/>
<circle cx="222.89" cy="474.73" r="2.05" fill="#fff" stroke="#111" stroke-width="1"/>
<polyline points="111.33,474.33 133.64,464.54 155.96,458.2 178.27,454.05 200.58,461.07 222.89,471.16" stroke="#111" stroke-width="1.1" fill="none"/>
<path d="M111.33 471.36V477.3M109.53 471.36h3.6M109.53 477.3h3.6" stroke="#111" stroke-width="1" fill="none"/>
<path d="M133.64 458.7V470.37M131.84 458.7h3.6M131.84 470.37h3.6" stroke="#111" stroke-width="1" fill="none"/>
<path d="M155.96 452.47V463.94M154.16 452.47h3.6M154.16 463.94h3.6" stroke="#111" stroke-width="1" fill="none"/>
<path d="M178.27 448.61V459.49M176.47 448.61h3.6M176.47 459.49h3.6" stroke="#111" stroke-width="1" fill="none"/>
<path d="M200.58 458.4V463.74M198.78 458.4h3.6M198.78 463.74h3.6" stroke="#111" stroke-width="1" fill="none"/>
<path d="M222.89 462.85V479.48M221.09 462.85h3.6M221.09 479.48h3.6" stroke="#111" stroke-width="1" fill="none"/>
<rect x="109.63" y="472.63" width="3.4" height="3.4" fill="#111"/>
<rect x="131.94" y="462.84" width="3.4" height="3.4" fill="#111"/>
<rect x="154.26" y="456.5" width="3.4" height="3.4" fill="#111"/>
<rect x="176.57" y="452.35" width="3.4" height="3.4" fill="#111"/>
<rect x="198.88" y="459.37" width="3.4" height="3.4" fill="#111"/>
<rect x="221.19" y="469.46" width="3.4" height="3.4" fill="#111"/>
<path d="M48.4 402.3H62.5M48.4 414.8H62.5" stroke="#111" stroke-width="1.1" fill="none"/>
<rect x="53.65" y="400.5" width="3.6" height="3.6" fill="#111"/>
<circle cx="55.45" cy="414.8" r="1.85" fill="#fff" stroke="#111" stroke-width="0.85"/>
<text x="65.3" y="405.29" class="r" font-family='"Liberation Sans", sans-serif' font-size="8.3">Imm DC</text>
<text x="65.3" y="417.79" class="r" font-family='"Liberation Sans", sans-serif' font-size="8.3">Mat DC</text>
<text x="268.8" y="373" font-family='"Liberation Sans", sans-serif' class="b" font-weight="bold" font-size="17.8">F</text>
<text x="335.8" y="370.3" class="t" font-family='"Liberation Serif", serif' font-size="16.5">BzATP</text>
<path d="M298.5 403.2V486.3" stroke="#111" stroke-width="1.1" fill="none"/>
<path d="M296 403.2H298.5" stroke="#111" stroke-width="1" fill="none"/>
<text x="294.3" y="405.43" text-anchor="end" font-family='"Liberation Sans", sans-serif' class="b" font-weight="bold" font-size="6.2">1.75</text>
<path d="M296 424.97H298.5" stroke="#111" stroke-width="1" fill="none"/>
<text x="294.3" y="427.2" text-anchor="end" font-family='"Liberation Sans", sans-serif' class="b" font-weight="bold" font-size="6.2">1.50</text>
<path d="M296 446.73H298.5" stroke="#111" stroke-width="1" fill="none"/>
<text x="294.3" y="448.97" text-anchor="end" font-family='"Liberation Sans", sans-serif' class="b" font-weight="bold" font-size="6.2">1.25</text>
<path d="M296 468.5H298.5" stroke="#111" stroke-width="1" fill="none"/>
<text x="294.3" y="470.73" text-anchor="end" font-family='"Liberation Sans", sans-serif' class="b" font-weight="bold" font-size="6.2">1.00</text>
<text transform="translate(275.94 440.5) rotate(-90) scale(1 1)" text-anchor="middle" font-family='"Liberation Sans", sans-serif' class="b" font-weight="bold" font-size="7.6">chemotatic index</text>
<path d="M307.6 495H483.6" stroke="#111" stroke-width="1.1" fill="none"/>
<path d="M307.6 495v2.5" stroke="#111" stroke-width="1" fill="none"/>
<text x="307.6" y="505.6" text-anchor="middle" font-family='"Liberation Sans", sans-serif' class="b" font-weight="bold" font-size="7">10<tspan font-size="4.5" letter-spacing="0.25" dx="0.7" dy="-2.66">-11</tspan></text>
<path d="M327.16 495v2.5" stroke="#111" stroke-width="1" fill="none"/>
<text x="327.16" y="505.6" text-anchor="middle" font-family='"Liberation Sans", sans-serif' class="b" font-weight="bold" font-size="7">10<tspan font-size="4.5" letter-spacing="0.25" dx="0.7" dy="-2.66">-10</tspan></text>
<path d="M346.71 495v2.5" stroke="#111" stroke-width="1" fill="none"/>
<text x="346.71" y="505.6" text-anchor="middle" font-family='"Liberation Sans", sans-serif' class="b" font-weight="bold" font-size="7">10<tspan font-size="4.5" letter-spacing="0.25" dx="0.7" dy="-2.66">-9</tspan></text>
<path d="M366.27 495v2.5" stroke="#111" stroke-width="1" fill="none"/>
<text x="366.27" y="505.6" text-anchor="middle" font-family='"Liberation Sans", sans-serif' class="b" font-weight="bold" font-size="7">10<tspan font-size="4.5" letter-spacing="0.25" dx="0.7" dy="-2.66">-8</tspan></text>
<path d="M385.82 495v2.5" stroke="#111" stroke-width="1" fill="none"/>
<text x="385.82" y="505.6" text-anchor="middle" font-family='"Liberation Sans", sans-serif' class="b" font-weight="bold" font-size="7">10<tspan font-size="4.5" letter-spacing="0.25" dx="0.7" dy="-2.66">-7</tspan></text>
<path d="M405.38 495v2.5" stroke="#111" stroke-width="1" fill="none"/>
<text x="405.38" y="505.6" text-anchor="middle" font-family='"Liberation Sans", sans-serif' class="b" font-weight="bold" font-size="7">10<tspan font-size="4.5" letter-spacing="0.25" dx="0.7" dy="-2.66">-6</tspan></text>
<path d="M424.93 495v2.5" stroke="#111" stroke-width="1" fill="none"/>
<text x="424.93" y="505.6" text-anchor="middle" font-family='"Liberation Sans", sans-serif' class="b" font-weight="bold" font-size="7">10<tspan font-size="4.5" letter-spacing="0.25" dx="0.7" dy="-2.66">-5</tspan></text>
<path d="M444.49 495v2.5" stroke="#111" stroke-width="1" fill="none"/>
<text x="444.49" y="505.6" text-anchor="middle" font-family='"Liberation Sans", sans-serif' class="b" font-weight="bold" font-size="7">10<tspan font-size="4.5" letter-spacing="0.25" dx="0.7" dy="-2.66">-4</tspan></text>
<path d="M464.04 495v2.5" stroke="#111" stroke-width="1" fill="none"/>
<text x="464.04" y="505.6" text-anchor="middle" font-family='"Liberation Sans", sans-serif' class="b" font-weight="bold" font-size="7">10<tspan font-size="4.5" letter-spacing="0.25" dx="0.7" dy="-2.66">-3</tspan></text>
<path d="M483.6 495v2.5" stroke="#111" stroke-width="1" fill="none"/>
<text x="483.6" y="505.6" text-anchor="middle" font-family='"Liberation Sans", sans-serif' class="b" font-weight="bold" font-size="7">10<tspan font-size="4.5" letter-spacing="0.25" dx="0.7" dy="-2.66">-2</tspan></text>
<text x="396.5" y="518.2" text-anchor="middle" font-family='"Liberation Sans", sans-serif' class="b" font-weight="bold" font-size="7.2">[M]</text>
<polyline points="366.27,471.98 385.82,469.37 405.38,473.99 424.93,475.73 444.49,474.33 464.04,472.59" stroke="#111" stroke-width="1.1" fill="none"/>
<path d="M366.27 469.37V474.59M364.47 469.37h3.6M364.47 474.59h3.6" stroke="#111" stroke-width="1" fill="none"/>
<path d="M385.82 462.75V475.99M384.02 462.75h3.6M384.02 475.99h3.6" stroke="#111" stroke-width="1" fill="none"/>
<path d="M405.38 468.76V479.21M403.58 468.76h3.6M403.58 479.21h3.6" stroke="#111" stroke-width="1" fill="none"/>
<path d="M424.93 472.07V479.38M423.13 472.07h3.6M423.13 479.38h3.6" stroke="#111" stroke-width="1" fill="none"/>
<path d="M444.49 469.37V479.3M442.69 469.37h3.6M442.69 479.3h3.6" stroke="#111" stroke-width="1" fill="none"/>
<path d="M464.04 465.89V479.3M462.24 465.89h3.6M462.24 479.3h3.6" stroke="#111" stroke-width="1" fill="none"/>
<circle cx="366.27" cy="471.98" r="2.05" fill="#fff" stroke="#111" stroke-width="1"/>
<circle cx="385.82" cy="469.37" r="2.05" fill="#fff" stroke="#111" stroke-width="1"/>
<circle cx="405.38" cy="473.99" r="2.05" fill="#fff" stroke="#111" stroke-width="1"/>
<circle cx="424.93" cy="475.73" r="2.05" fill="#fff" stroke="#111" stroke-width="1"/>
<circle cx="444.49" cy="474.33" r="2.05" fill="#fff" stroke="#111" stroke-width="1"/>
<circle cx="464.04" cy="472.59" r="2.05" fill="#fff" stroke="#111" stroke-width="1"/>
<polyline points="366.27,471.37 385.82,469.37 405.38,464.15 424.93,459.88 444.49,457.18 464.04,461.1" stroke="#111" stroke-width="1.1" fill="none"/>
<path d="M366.27 468.24V474.51M364.47 468.24h3.6M364.47 474.51h3.6" stroke="#111" stroke-width="1" fill="none"/>
<path d="M385.82 462.49V476.25M384.02 462.49h3.6M384.02 476.25h3.6" stroke="#111" stroke-width="1" fill="none"/>
<path d="M405.38 459.79V468.5M403.58 459.79h3.6M403.58 468.5h3.6" stroke="#111" stroke-width="1" fill="none"/>
<path d="M424.93 455.53V464.23M423.13 455.53h3.6M423.13 464.23h3.6" stroke="#111" stroke-width="1" fill="none"/>
<path d="M444.49 453.52V460.84M442.69 453.52h3.6M442.69 460.84h3.6" stroke="#111" stroke-width="1" fill="none"/>
<path d="M464.04 457.18V465.02M462.24 457.18h3.6M462.24 465.02h3.6" stroke="#111" stroke-width="1" fill="none"/>
<rect x="364.57" y="469.67" width="3.4" height="3.4" fill="#111"/>
<rect x="384.12" y="467.67" width="3.4" height="3.4" fill="#111"/>
<rect x="403.68" y="462.45" width="3.4" height="3.4" fill="#111"/>
<rect x="423.23" y="458.18" width="3.4" height="3.4" fill="#111"/>
<rect x="442.79" y="455.48" width="3.4" height="3.4" fill="#111"/>
<rect x="462.34" y="459.4" width="3.4" height="3.4" fill="#111"/>
<path d="M313.2 417H326.5M313.2 426.7H326.5" stroke="#111" stroke-width="1.1" fill="none"/>
<rect x="318.05" y="415.2" width="3.6" height="3.6" fill="#111"/>
<circle cx="319.85" cy="426.7" r="1.85" fill="#fff" stroke="#111" stroke-width="0.85"/>
<text x="328.8" y="419.66" class="r" font-family='"Liberation Sans", sans-serif' font-size="7.4">Imm DC</text>
<text x="328.8" y="429.36" class="r" font-family='"Liberation Sans", sans-serif' font-size="7.4">Mat DC</text>
</svg>
</body></html>
